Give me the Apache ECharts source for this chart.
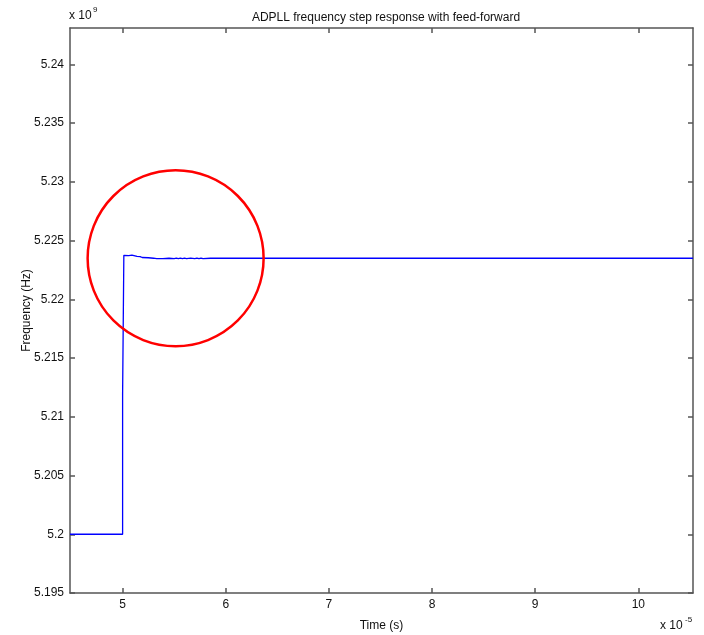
<!DOCTYPE html>
<html>
<head>
<meta charset="utf-8">
<script src="https://cdn.jsdelivr.net/npm/echarts@6/dist/echarts.min.js"></script>
<style>html,body{margin:0;padding:0;background:#fff}#c{width:704px;height:635px}</style>
</head>
<body>
<div id="c"></div>
<script>
// time in units of 1e-5 s, frequency in units of 1e9 Hz
const timeVals = [4.49, 5.000, 5.000, 5.012, 5.012, 5.03, 5.06, 5.09, 5.11, 5.115, 5.14, 5.17, 5.19, 5.20, 5.25, 5.30,
  5.33, 5.34, 5.35, 5.36, 5.37, 5.38, 5.39, 5.45, 5.50, 5.52, 5.54, 5.56, 5.58, 5.60, 5.62, 5.66,
  5.70, 5.72, 5.74, 5.76, 5.78, 5.85, 10.53];
const freqVals = [5.2, 5.2, 5.2119, 5.2119, 5.22375, 5.22378, 5.22372, 5.22376, 5.22372, 5.22365, 5.22366, 5.22364, 5.22356, 5.22352, 5.22354, 5.2235,
  5.22347, 5.2235, 5.22347, 5.2235, 5.22347, 5.2235, 5.22347, 5.2235, 5.22346, 5.2235, 5.22346, 5.2235, 5.22346, 5.2235, 5.22346, 5.2235,
  5.22346, 5.2235, 5.22346, 5.2235, 5.22346, 5.2235, 5.2235];
const xTicks = [5, 6, 7, 8, 9, 10];
const yTicks = [5.195, 5.2, 5.205, 5.21, 5.215, 5.22, 5.225, 5.23, 5.235, 5.24];
const titleText = 'ADPLL frequency step response with feed-forward';
const xLabel = 'Time (s)';
const yLabel = 'Frequency (Hz)';
const xMin = 4.49, xMax = 10.53, yMin = 5.195, yMax = 5.2431;
const circleCenter = [5.514, 5.2235];

const FONT = 'Liberation Sans';
const axisLine = {show: true, lineStyle: {color: '#555', width: 1.5}};
const xTick = {show: true, inside: true, length: 5, customValues: xTicks, lineStyle: {color: '#555', width: 1.5}};
const yTick = {show: true, inside: true, length: 5, customValues: yTicks, lineStyle: {color: '#555', width: 1.5}};
const chart = echarts.init(document.getElementById('c'), null, {renderer: 'canvas'});
const data = timeVals.map((t, i) => [t, freqVals[i]]);
const yFmt = v => String(Math.round(v * 1000) / 1000);
chart.setOption({
  animation: false,
  title: {text: titleText, left: 381, top: 7, textAlign: 'center',
    textStyle: {fontFamily: FONT, fontSize: 12, fontWeight: 'normal', color: '#111'}},
  grid: {left: 70, right: 11, top: 28, bottom: 42, containLabel: false, outerBoundsMode: 'none'},
  xAxis: [
    {type: 'value', min: xMin, max: xMax, position: 'bottom',
      axisLine, axisTick: xTick, splitLine: {show: false},
      axisLabel: {customValues: xTicks, formatter: v => String(Math.round(v)), fontFamily: FONT, fontSize: 12, color: '#111', margin: 6},
      name: xLabel, nameLocation: 'middle', nameGap: 27, nameMoveOverlap: false,
      nameTextStyle: {fontFamily: FONT, fontSize: 12, color: '#111'}},
    {type: 'value', min: xMin, max: xMax, position: 'top',
      axisLine, axisTick: xTick, splitLine: {show: false}, axisLabel: {show: false}}
  ],
  yAxis: [
    {type: 'value', min: yMin, max: yMax, position: 'left',
      axisLine, axisTick: yTick, splitLine: {show: false},
      axisLabel: {customValues: yTicks, formatter: yFmt, fontFamily: FONT, fontSize: 12, color: '#111', margin: 6},
      name: yLabel, nameLocation: 'middle', nameGap: 37, nameRotate: 90, nameMoveOverlap: false,
      nameTextStyle: {fontFamily: FONT, fontSize: 12, color: '#111'}},
    {type: 'value', min: yMin, max: yMax, position: 'right',
      axisLine, axisTick: yTick, splitLine: {show: false}, axisLabel: {show: false}}
  ],
  series: [{
    type: 'line', data, showSymbol: false, symbol: 'none',
    lineStyle: {color: '#0000ff', width: 1.3}, xAxisIndex: 0, yAxisIndex: 0
  }]
});
const c = chart.convertToPixel({xAxisIndex: 0, yAxisIndex: 0}, circleCenter);
chart.setOption({
  graphic: [
    {type: 'circle', shape: {cx: c[0], cy: c[1], r: 88}, style: {fill: 'none', stroke: '#ff0000', lineWidth: 2.5}, z: 100},
    {type: 'text', left: 69, top: 10, style: {text: 'x 10', font: '12px ' + FONT, fill: '#111'}},
    {type: 'text', left: 93, top: 6, style: {text: '9', font: '8px ' + FONT, fill: '#111'}},
    {type: 'text', left: 660, top: 620, style: {text: 'x 10', font: '12px ' + FONT, fill: '#111'}},
    {type: 'text', left: 685, top: 616, style: {text: '-5', font: '8px ' + FONT, fill: '#111'}}
  ]
});
</script>
</body>
</html>
